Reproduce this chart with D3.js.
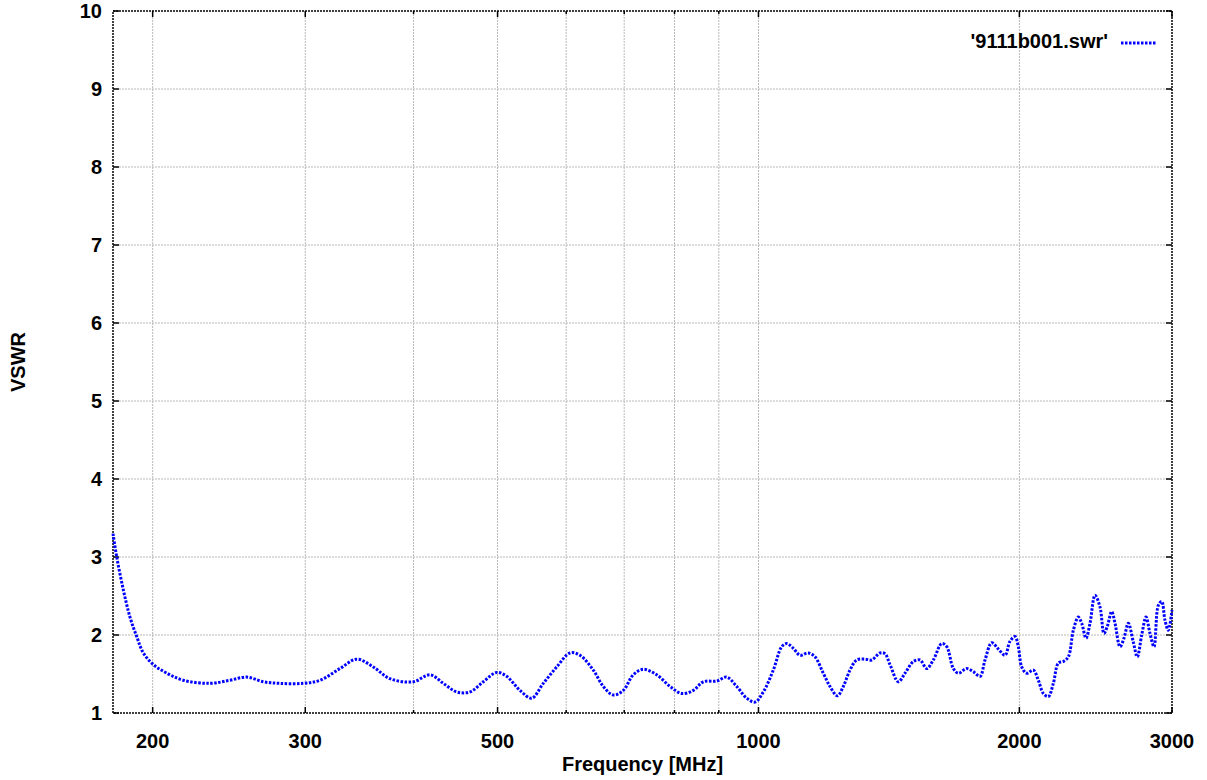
<!DOCTYPE html>
<html>
<head>
<meta charset="utf-8">
<title>VSWR</title>
<script src="https://d3js.org/d3.v7.min.js"></script>
<style>
  body { margin: 0; background: #fff; }
  text { font-family: "Liberation Sans", Arial, sans-serif; font-weight: bold; font-size: 20px; fill: #000; }
</style>
</head>
<body>
<div id="chart"></div>
<script>
// frequency [MHz] and VSWR
const freq = [
  180, 181.8, 185, 188.3, 191.7, 195.1, 200.4, 207.7, 217, 232.9,
  245.6, 256.8, 268.4, 280.5, 298.5, 312, 329, 343.9, 359.4, 375.7,
  399.7, 417.9, 432.9, 448.6, 464.7, 481.4, 498.8, 512.2, 530.7, 547.4,
  564.6, 585, 606.1, 622.4, 644.8, 662.2, 680, 698.3, 717.1, 736.4,
  763.1, 790.6, 815.5, 841.1, 863.8, 895.1, 919.2, 943.9, 969.3, 990.9,
  1013, 1040.2, 1063.7, 1077.9, 1097, 1116.6, 1141.5, 1162, 1187.9, 1209.3,
  1233, 1252.8, 1275.3, 1298.2, 1327.2, 1351, 1381.1, 1399.6, 1418.3, 1449.9,
  1476, 1508.9, 1536, 1563.6, 1591.3, 1627.2, 1649, 1678.1, 1700.6, 1738.9,
  1769.7, 1801.5, 1825.5, 1858.3, 1891.2, 1925.2, 1950.9, 1977, 1994.4, 2012.5,
  2039.4, 2075.5, 2103.2, 2131.4, 2159.9, 2188.8, 2218.1, 2247.7, 2277.7, 2308.2,
  2339, 2360.2, 2387.3, 2412.8, 2445.1, 2477.7, 2504.2, 2526.3, 2555.9, 2578.4,
  2613, 2640.9, 2671.2, 2706.9, 2735.8, 2768, 2799.8, 2829.7, 2859.9, 2892.7,
  2918.9, 2944.6, 2970.5, 3000
];
const vswr = [
  3.30, 3.00, 2.58, 2.23, 1.98, 1.77, 1.62, 1.51, 1.42, 1.38,
  1.42, 1.46, 1.40, 1.38, 1.38, 1.42, 1.57, 1.69, 1.59, 1.44,
  1.40, 1.49, 1.38, 1.27, 1.27, 1.40, 1.52, 1.47, 1.29, 1.19,
  1.38, 1.59, 1.77, 1.74, 1.55, 1.34, 1.23, 1.29, 1.49, 1.56,
  1.49, 1.34, 1.25, 1.29, 1.40, 1.41, 1.46, 1.34, 1.19, 1.14,
  1.27, 1.55, 1.85, 1.89, 1.83, 1.74, 1.77, 1.72, 1.51, 1.34,
  1.22, 1.34, 1.55, 1.68, 1.69, 1.68, 1.77, 1.76, 1.62, 1.40,
  1.51, 1.66, 1.68, 1.57, 1.68, 1.89, 1.85, 1.57, 1.51, 1.57,
  1.53, 1.47, 1.68, 1.90, 1.82, 1.74, 1.92, 1.98, 1.85, 1.59,
  1.51, 1.55, 1.42, 1.25, 1.21, 1.38, 1.64, 1.66, 1.72, 2.06,
  2.23, 2.15, 1.96, 2.15, 2.51, 2.36, 2.02, 2.11, 2.30, 2.15,
  1.85, 1.96, 2.15, 1.91, 1.72, 2.00, 2.23, 2.02, 1.85, 2.38,
  2.43, 2.19, 2.06, 2.32
];

const xTickLabels = [200, 300, 500, 1000, 2000, 3000];
const xGrid = [200, 300, 400, 500, 600, 700, 800, 900, 1000, 2000, 3000];
const yTicks = [1, 2, 3, 4, 5, 6, 7, 8, 9, 10];
const seriesName = "'9111b001.swr'";

const W = 1207, H = 780;
const m = { left: 113, right: 1172, top: 11, bottom: 713 };

const svg = d3.select('#chart').append('svg')
  .attr('width', W)
  .attr('height', H);

const x = d3.scaleLog().domain([180, 3000]).range([m.left, m.right]);
const y = d3.scaleLinear().domain([1, 10]).range([m.bottom, m.top]);

// grid
svg.append('g').selectAll('line')
  .data(xGrid.filter(d => d > 180 && d < 3000))
  .join('line')
    .attr('x1', d => x(d)).attr('x2', d => x(d))
    .attr('y1', m.top).attr('y2', m.bottom)
    .attr('stroke', '#b8b8b8').attr('stroke-dasharray', '2,1');

svg.append('g').selectAll('line')
  .data(yTicks.filter(d => d > 1 && d < 10))
  .join('line')
    .attr('x1', m.left).attr('x2', m.right)
    .attr('y1', d => y(d)).attr('y2', d => y(d))
    .attr('stroke', '#b8b8b8').attr('stroke-dasharray', '2,1');

// ticks (inward, mirrored)
const tk = svg.append('g').attr('stroke', '#000').attr('stroke-width', 1.5);
xGrid.forEach(d => {
  const len = xTickLabels.includes(d) ? 6 : 3;
  tk.append('line').attr('x1', x(d)).attr('x2', x(d)).attr('y1', m.bottom).attr('y2', m.bottom - len);
  tk.append('line').attr('x1', x(d)).attr('x2', x(d)).attr('y1', m.top).attr('y2', m.top + len);
});
yTicks.forEach(d => {
  tk.append('line').attr('x1', m.left).attr('x2', m.left + 6).attr('y1', y(d)).attr('y2', y(d));
  tk.append('line').attr('x1', m.right).attr('x2', m.right - 6).attr('y1', y(d)).attr('y2', y(d));
});

// border
svg.append('rect')
  .attr('x', m.left).attr('y', m.top)
  .attr('width', m.right - m.left).attr('height', m.bottom - m.top)
  .attr('fill', 'none').attr('stroke', '#000')
  .attr('stroke-width', 1.5).attr('stroke-dasharray', '2,1');

// tick labels
svg.append('g').selectAll('text')
  .data(xTickLabels)
  .join('text')
    .attr('x', d => x(d)).attr('y', 748)
    .attr('text-anchor', 'middle')
    .text(d => d);

svg.append('g').selectAll('text')
  .data(yTicks)
  .join('text')
    .attr('x', 102).attr('y', d => y(d) + 7)
    .attr('text-anchor', 'end')
    .text(d => d);

// axis titles
svg.append('text')
  .attr('x', (m.left + m.right) / 2).attr('y', 771)
  .attr('text-anchor', 'middle')
  .text('Frequency [MHz]');

svg.append('text')
  .attr('transform', `translate(25, ${(m.top + m.bottom) / 2}) rotate(-90)`)
  .attr('text-anchor', 'middle')
  .text('VSWR');

// data line
const pts = freq.map((f, i) => [f, vswr[i]]);
const line = d3.line()
  .x(d => x(d[0]))
  .y(d => y(d[1]))
  .curve(d3.curveCatmullRom.alpha(0.5));

svg.append('path')
  .datum(pts)
  .attr('d', line)
  .attr('fill', 'none')
  .attr('stroke', '#0000ff')
  .attr('stroke-width', 3)
  .attr('stroke-dasharray', '2.5,1.5');

// legend
svg.append('text')
  .attr('x', 1108).attr('y', 48)
  .attr('text-anchor', 'end')
  .text(seriesName);
svg.append('line')
  .attr('x1', 1121).attr('x2', 1156)
  .attr('y1', 43).attr('y2', 43)
  .attr('stroke', '#0000ff').attr('stroke-width', 3)
  .attr('stroke-dasharray', '2.5,1.5');
</script>
</body>
</html>
